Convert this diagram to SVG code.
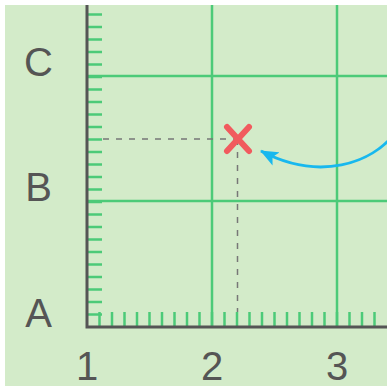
<svg xmlns="http://www.w3.org/2000/svg" width="387" height="386" viewBox="0 0 387 386">
<defs>
<style>
.grid{stroke:#4cca78;stroke-width:2.5;fill:none}
.tick{stroke:#4cca78;stroke-width:2.5}
.axis{stroke:#555;stroke-width:3;fill:none}
.lbl{font-family:"Liberation Sans",Arial,sans-serif;font-size:40px;fill:#555;text-anchor:middle}
.dash{stroke:#777;stroke-width:1.5;stroke-dasharray:6 7;fill:none}
</style>
<marker id="ah" viewBox="0 0 18 15" refX="17" refY="7.5" markerWidth="18" markerHeight="15" markerUnits="userSpaceOnUse" orient="auto">
<path d="M0,0 L18,7.5 L0,15 L4,7.5 Z" fill="#18b8ee"/>
</marker>
</defs>
<rect x="0" y="0" width="387" height="386" fill="#fff"/>
<rect x="5" y="5" width="382" height="381" fill="#d3ebc9"/>
<g id="grid">
<line class="grid" x1="212" y1="5" x2="212" y2="327"/>
<line class="grid" x1="337" y1="5" x2="337" y2="327"/>
<line class="grid" x1="87" y1="76" x2="387" y2="76"/>
<line class="grid" x1="87" y1="201" x2="387" y2="201"/>
</g>
<g id="yticks">
<path class="tick" d="M87 314.5h15M87 302h15M87 289.5h15M87 277h15M87 264.5h15M87 252h15M87 239.5h15M87 227h15M87 214.5h15M87 202h15M87 189.5h15M87 177h15M87 164.5h15M87 152h15M87 139.5h15M87 127h15M87 114.5h15M87 102h15M87 89.5h15M87 77h15M87 64.5h15M87 52h15M87 39.5h15M87 27h15M87 14.5h15"/>
</g>
<g id="xticks">
<path class="tick" d="M99.5 327v-15M112 327v-15M124.5 327v-15M137 327v-15M149.5 327v-15M162 327v-15M174.5 327v-15M187 327v-15M199.5 327v-15M212 327v-15M224.5 327v-15M237 327v-15M249.5 327v-15M262 327v-15M274.5 327v-15M287 327v-15M299.5 327v-15M312 327v-15M324.5 327v-15M337 327v-15M349.5 327v-15M362 327v-15M374.5 327v-15"/>
</g>
<g id="axes">
<polyline class="axis" points="87,5 87,327 387,327"/>
</g>
<g id="labels">
<text class="lbl" x="38.5" y="76">C</text>
<text class="lbl" x="38.5" y="201">B</text>
<text class="lbl" x="38.5" y="327">A</text>
<text class="lbl" x="87" y="380">1</text>
<text class="lbl" x="212" y="380">2</text>
<text class="lbl" x="337" y="380">3</text>
</g>
<g id="guides">
<line class="dash" x1="103" y1="139" x2="237.5" y2="139"/>
<line class="dash" x1="237.5" y1="139" x2="237.5" y2="312"/>
</g>
<g id="point">
<path d="M227 151 L249 127 M227 127 L249 151" stroke="#f15b5e" stroke-width="6" stroke-linecap="round" fill="none"/>
</g>
<g id="connectors">
<path d="M395 133 C372 163 320 182 261 151" stroke="#18b8ee" stroke-width="3" fill="none" marker-end="url(#ah)"/>
</g>
</svg>
